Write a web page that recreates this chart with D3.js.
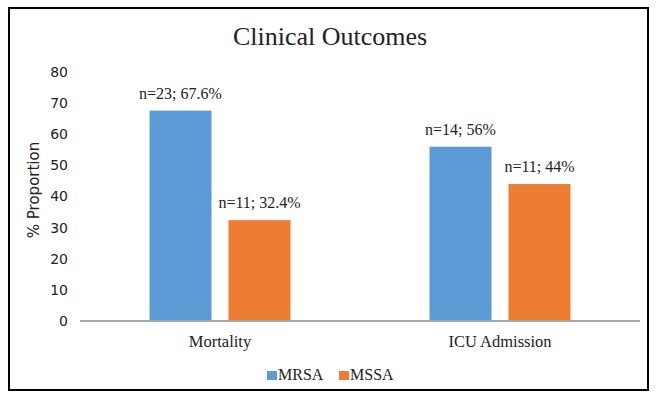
<!DOCTYPE html>
<html>
<head>
<meta charset="utf-8">
<script src="https://cdn.jsdelivr.net/npm/d3@7"></script>
<style>
  body { margin: 0; background: #fff; }
</style>
</head>
<body>
<svg id="chart" width="656" height="399"></svg>
<script>
const categories = ["Mortality", "ICU Admission"];
const seriesNames = ["MRSA", "MSSA"];
const mrsaValues = [67.6, 56];
const mssaValues = [32.4, 44];
const mrsaLabels = ["n=23; 67.6%", "n=14; 56%"];
const mssaLabels = ["n=11; 32.4%", "n=11; 44%"];
const yTicks = [0, 10, 20, 30, 40, 50, 60, 70, 80];
const colours = ["#5b9bd5", "#ed7d31"];

const svg = d3.select("#chart");
const serif = "Liberation Serif";
const sans = "DejaVu Sans";

// outer frame
svg.append("rect")
    .attr("x", 9).attr("y", 8)
    .attr("width", 639).attr("height", 382)
    .attr("fill", "none")
    .attr("stroke", "#000")
    .attr("stroke-width", 2);

const g = svg.append("g").attr("transform", "translate(80,72)");

const x = d3.scaleBand().domain(categories).range([0, 560]);
const x1 = d3.scaleBand().domain(seriesNames).range([0, x.bandwidth()]).paddingInner(0.215).paddingOuter(0.88);
const y = d3.scaleLinear().domain([0, 80]).range([249, 0]);

// y tick labels
g.selectAll(".ytick")
    .data(yTicks)
    .enter().append("text")
    .attr("x", -12)
    .attr("y", d => y(d))
    .attr("dy", "0.35em")
    .attr("text-anchor", "end")
    .attr("font-family", sans)
    .attr("font-size", 14)
    .attr("fill", "#222")
    .text(d => d);

const rows = categories.map((c, i) => ({
    cat: c,
    vals: [
        {s: seriesNames[0], v: mrsaValues[i], label: mrsaLabels[i]},
        {s: seriesNames[1], v: mssaValues[i], label: mssaLabels[i]}
    ]
}));

const groups = g.selectAll(".grp")
    .data(rows)
    .enter().append("g")
    .attr("transform", d => `translate(${x(d.cat)},0)`);

groups.selectAll("rect")
    .data(d => d.vals)
    .enter().append("rect")
    .attr("x", d => x1(d.s))
    .attr("y", d => y(d.v))
    .attr("width", x1.bandwidth())
    .attr("height", d => y(0) - y(d.v))
    .attr("fill", (d, i) => colours[i]);

groups.selectAll(".lbl")
    .data(d => d.vals)
    .enter().append("text")
    .attr("x", d => x1(d.s) + x1.bandwidth() / 2)
    .attr("y", d => y(d.v) - 12)
    .attr("text-anchor", "middle")
    .attr("font-family", serif)
    .attr("font-size", 16)
    .attr("fill", "#222")
    .text(d => d.label);

// baseline
g.append("line")
    .attr("x1", 0).attr("x2", 560)
    .attr("y1", y(0)).attr("y2", y(0))
    .attr("stroke", "#a6a6a6")
    .attr("stroke-width", 2);

// category labels
g.selectAll(".xlbl")
    .data(categories)
    .enter().append("text")
    .attr("x", d => x(d) + x.bandwidth() / 2)
    .attr("y", y(0) + 26)
    .attr("text-anchor", "middle")
    .attr("font-family", serif)
    .attr("font-size", 16.5)
    .attr("fill", "#222")
    .text(d => d);

// title
svg.append("text")
    .attr("x", 330).attr("y", 45)
    .attr("text-anchor", "middle")
    .attr("font-family", serif)
    .attr("font-size", 26)
    .attr("fill", "#222")
    .text("Clinical Outcomes");

// y axis title
svg.append("text")
    .attr("transform", "translate(39,190) rotate(-90)")
    .attr("text-anchor", "middle")
    .attr("font-family", sans)
    .attr("font-size", 15)
    .attr("fill", "#222")
    .text("% Proportion");

// legend
const legend = svg.append("g").attr("transform", "translate(267,380)");
const legX = [0, 72];
seriesNames.forEach((s, i) => {
    legend.append("rect")
        .attr("x", legX[i]).attr("y", -9)
        .attr("width", 10).attr("height", 9)
        .attr("fill", colours[i]);
    legend.append("text")
        .attr("x", legX[i] + 11).attr("y", 0)
        .attr("font-family", serif)
        .attr("font-size", 16)
        .attr("fill", "#222")
        .text(s);
});
</script>
</body>
</html>
